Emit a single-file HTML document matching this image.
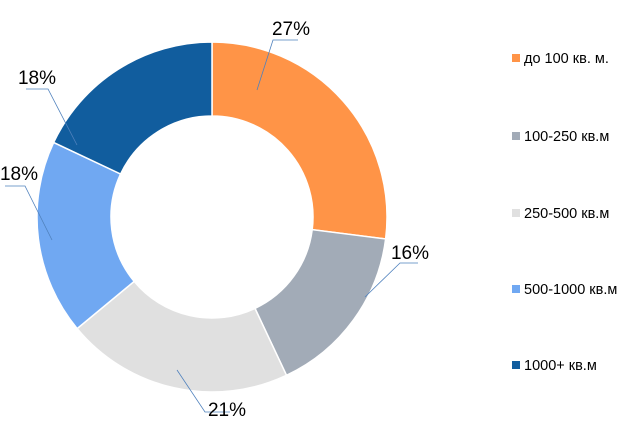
<!DOCTYPE html>
<html><head><meta charset="utf-8"><style>
body{margin:0;background:#fff;}
svg{display:block;font-family:"Liberation Sans",sans-serif;}
</style></head><body>
<svg id="c" width="636" height="442"></svg>
<script>
const categories=["до 100 кв. м.","100-250 кв.м","250-500 кв.м","500-1000 кв.м","1000+ кв.м"];
const values=[27,16,21,18,18];
const labels=["27%","16%","21%","18%","18%"];
const colors=["#FF9447","#A2ABB7","#E0E0E0","#70A8F2","#115D9E"];
const labelPos=[[291,28],[410,252],[227,409],[19,173],[37,77]];
const leaders=[[[257,90],[273,40],[298,40]],[[365,297],[400,263],[418,263]],[[177,370],[205,412],[230,412]],[[52,240],[25,186],[5,186]],[[77,145],[48,89],[26,89]]];
const NS="http://www.w3.org/2000/svg";
const svg=document.getElementById('c');
const cx=212,cy=217,R=175,r=101;
const total=values.reduce((a,b)=>a+b,0);
function pt(a,rad){return [cx+rad*Math.sin(a),cy-rad*Math.cos(a)];}
let acc=0;
values.forEach((v,i)=>{
  const a0=acc/total*2*Math.PI;acc+=v;const a1=acc/total*2*Math.PI;
  const lg=(a1-a0)>Math.PI?1:0;
  const p0=pt(a0,R),p1=pt(a1,R),q1=pt(a1,r),q0=pt(a0,r);
  const p=document.createElementNS(NS,'path');
  p.setAttribute('d',`M${p0}A${R},${R} 0 ${lg} 1 ${p1}L${q1}A${r},${r} 0 ${lg} 0 ${q0}Z`);
  p.setAttribute('fill',colors[i]);p.setAttribute('stroke','#fff');p.setAttribute('stroke-width','1.5');
  
  
  svg.appendChild(p);
});
leaders.forEach((l,i)=>{
  const pl=document.createElementNS(NS,'polyline');
  pl.setAttribute('points',l.map(x=>x.join(',')).join(' '));
  pl.setAttribute('fill','none');pl.setAttribute('stroke','#4F81BD');pl.setAttribute('stroke-width','0.8');
  
  
  svg.appendChild(pl);
});
labels.forEach((t,i)=>{
  const tx=document.createElementNS(NS,'text');
  tx.setAttribute('x',labelPos[i][0]);tx.setAttribute('y',labelPos[i][1]+7);
  tx.setAttribute('text-anchor','middle');tx.setAttribute('font-size','19');tx.setAttribute('fill','#000');
  tx.textContent=t;
  
  
  svg.appendChild(tx);
});
const ly=[58,136,213,289,365];
categories.forEach((c,i)=>{
  const g=document.createElementNS(NS,'g');
  
  
  const s=document.createElementNS(NS,'rect');
  s.setAttribute('x',512);s.setAttribute('y',ly[i]-4);s.setAttribute('width',8);s.setAttribute('height',8);
  s.setAttribute('fill',colors[i]);
  
  
  const t=document.createElementNS(NS,'text');
  t.setAttribute('x',524);t.setAttribute('y',ly[i]+5);t.setAttribute('font-size','14.5');t.setAttribute('fill','#000');
  t.textContent=c;
  
  
  g.appendChild(s);g.appendChild(t);svg.appendChild(g);
});
</script>
</body></html>
